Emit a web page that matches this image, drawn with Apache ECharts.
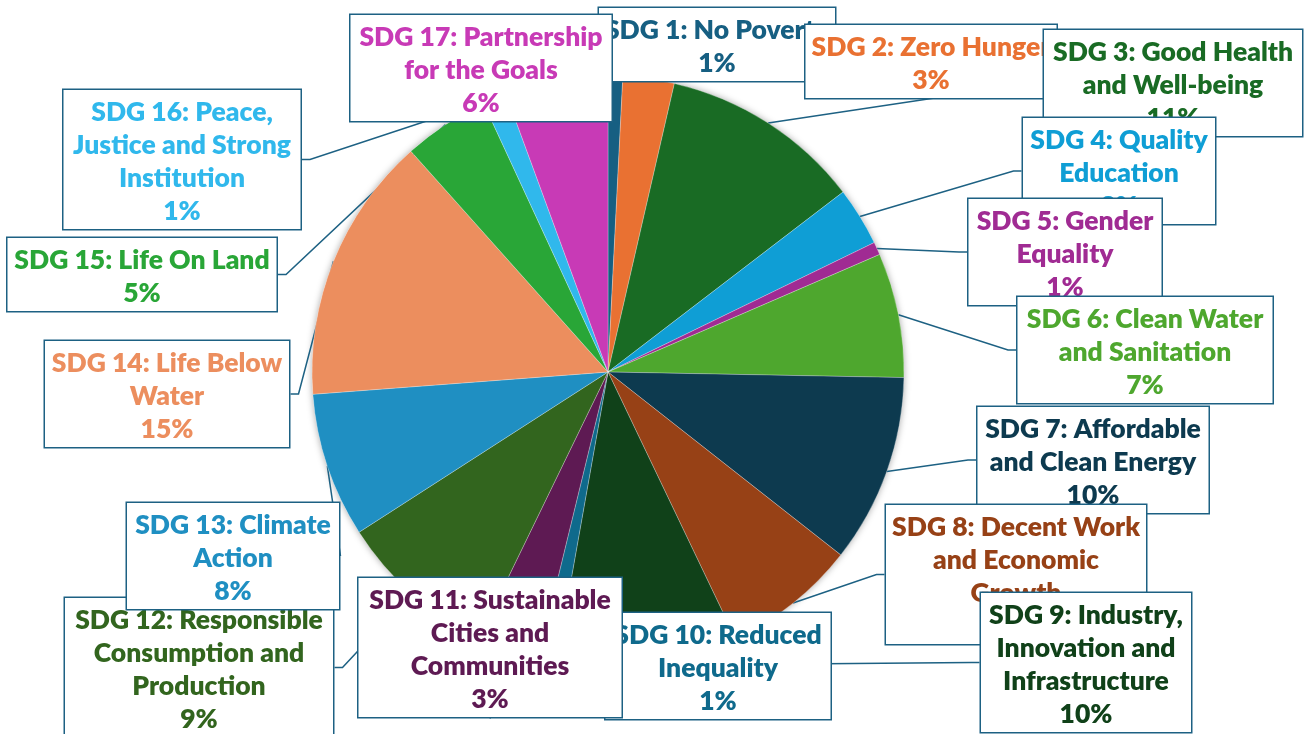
<!DOCTYPE html>
<html><head><meta charset="utf-8">
<script src="https://cdn.jsdelivr.net/npm/echarts/dist/echarts.min.js"></script>
<style>html,body{margin:0;padding:0;background:#fff}#c{width:1308px;height:734px}</style>
</head><body><div id="c"></div>
<script>
// Category names (line breaks as shown in the callouts)
const categories = [
  'SDG 1: No Poverty',
  'SDG 2: Zero Hunger',
  'SDG 3: Good Health\nand Well-being',
  'SDG 4: Quality\nEducation',
  'SDG 5: Gender\nEquality',
  'SDG 6: Clean Water\nand Sanitation',
  'SDG 7: Affordable\nand Clean Energy',
  'SDG 8: Decent Work\nand Economic\nGrowth',
  'SDG 9: Industry,\nInnovation and\nInfrastructure',
  'SDG 10: Reduced\nInequality',
  'SDG 11: Sustainable\nCities and\nCommunities',
  'SDG 12: Responsible\nConsumption and\nProduction',
  'SDG 13: Climate\nAction',
  'SDG 14: Life Below\nWater',
  'SDG 15: Life On Land',
  'SDG 16: Peace,\nJustice and Strong\nInstitution',
  'SDG 17: Partnership\nfor the Goals'
];
// Share of each SDG (%)
const shares = [0.8, 2.8, 11.0, 3.2, 0.7, 6.8, 10.3, 7.3, 9.9, 1.0, 3.4, 8.7, 7.9, 14.6, 4.7, 1.3, 5.6];
const sliceColors = [
  '#165f82', '#e97132', '#196b24', '#0f9ed5', '#a02b93', '#4ea72e',
  '#0d3a4f', '#974116', '#104119', '#0f6a8c', '#5e1a53', '#32651e',
  '#1f8fc2', '#ec8e5e', '#29a637', '#30b8ec', '#c83ab6'
];
// Callout boxes: [centre x, top y, box width]
const labelBoxes = [
  [717, 8, 238], [931, 25, 253], [1173, 30, 260], [1119, 118, 194],
  [1065, 199, 195], [1145, 297, 257], [1093, 407, 233], [1016, 505, 262],
  [1086, 593, 212], [718, 613, 227], [490, 578, 265], [199, 598, 270],
  [233, 503, 214], [167, 341, 246], [142, 238, 271], [182, 90, 239],
  [481, 15, 263]
];
const edge = '#1d6183';
const total = shares.reduce((a, b) => a + b, 0);

const chart = echarts.init(document.getElementById('c'), null, {renderer: 'canvas'});
chart.setOption({
  backgroundColor: '#ffffff',
  animation: false,
  series: [
    {
      type: 'pie', silent: true, z: 1,
      center: [608, 372], radius: 296,
      label: {show: false}, labelLine: {show: false},
      data: [{value: 1, itemStyle: {color: '#ffffff', shadowBlur: 7, shadowColor: 'rgba(0,0,0,0.35)'}}]
    },
    {
      type: 'pie', z: 2,
      center: [608, 372], radius: 296,
      startAngle: 90, clockwise: true,
      avoidLabelOverlap: false,
      itemStyle: {borderColor: 'rgba(255,255,255,0.5)', borderWidth: 0.5},
      label: {
        show: true, position: 'outside',
        fontFamily: 'Lato', fontWeight: 800, fontSize: 26.5, lineHeight: 33,
        align: 'center',
        backgroundColor: '#ffffff', borderColor: edge, borderWidth: 1.5,
        padding: [6, 4, 1, 4],
        formatter: p => p.name + '\n' + Math.round(p.value / total * 100) + '%'
      },
      labelLine: {show: true, length: 8, length2: 8, lineStyle: {color: edge, width: 1.5}},
      labelLayout: p => {
        const b = labelBoxes[p.dataIndex];
        return {x: b[0], y: b[1], align: 'center', verticalAlign: 'top'};
      },
      data: categories.map((name, i) => ({
        name, value: shares[i],
        itemStyle: {color: sliceColors[i]},
        label: {color: sliceColors[i], width: labelBoxes[i][2] - 10, overflow: 'none'}
      }))
    }
  ]
});
</script></body></html>
